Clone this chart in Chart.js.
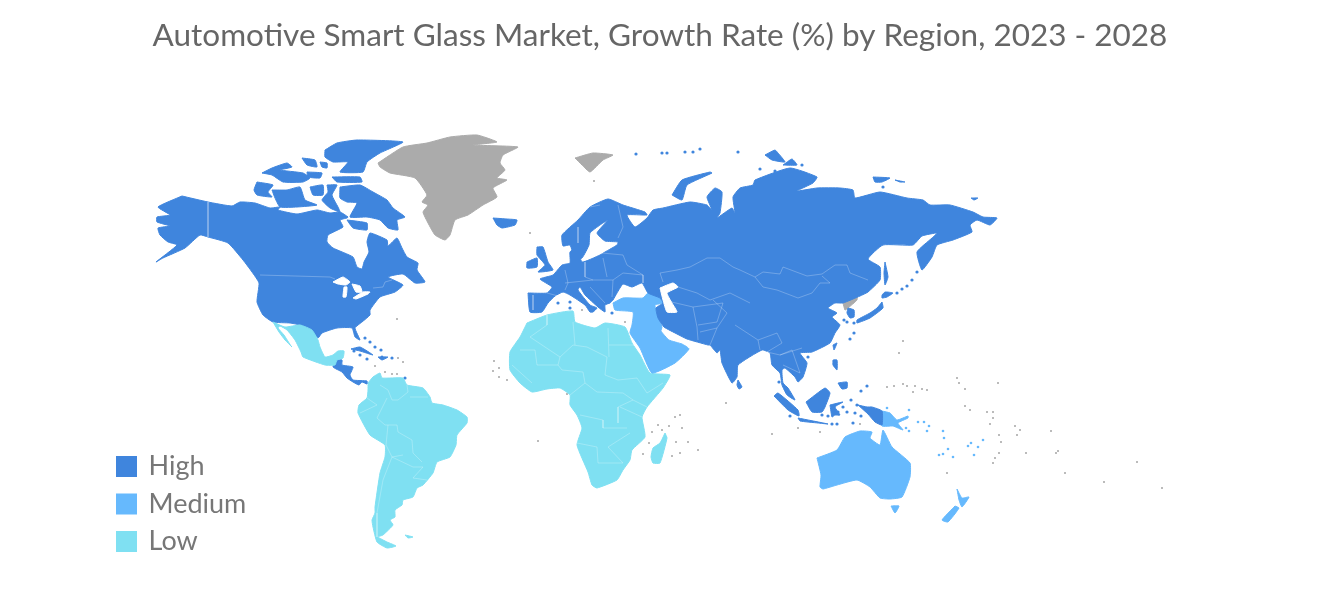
<!DOCTYPE html>
<html>
<head>
<meta charset="utf-8">
<style>html,body{margin:0;padding:0;background:#fff}canvas{display:block}</style>
<script src="https://cdn.jsdelivr.net/npm/chart.js@4"></script>
</head>
<body>
<canvas id="map" width="1320" height="592"></canvas>
<script>
const titleText = 'Automotive Smart Glass Market, Growth Rate (%) by Region, 2023 - 2028';
const tiers = ['High', 'Medium', 'Low'];

// region outlines as [x, y] in map units
const eurasia = [[528,293],[547,293],[552,287],[540,279],[553,275],[562,265],[570,263],[570,252],[577,247],[582,262],[600,255],[605,252],[617,245],[618,242],[605,241],[597,233],[608,220],[600,225],[590,233],[589,245],[582,258],[575,259],[570,245],[563,246],[562,235],[578,220],[590,207],[608,199],[623,205],[645,212],[647,215],[627,215],[635,227],[647,218],[653,210],[663,208],[690,202],[707,205],[712,210],[707,197],[715,188],[722,192],[720,213],[717,218],[732,208],[735,213],[733,197],[740,188],[753,185],[755,180],[790,168],[817,177],[813,183],[797,191],[817,188],[840,188],[853,190],[855,198],[880,192],[907,198],[923,200],[930,205],[950,205],[973,212],[983,217],[997,218],[990,225],[977,220],[970,225],[972,232],[953,240],[937,245],[932,257],[922,270],[917,252],[932,238],[937,233],[922,236],[913,245],[883,245],[868,259],[880,267],[880,280],[868,292],[860,296],[843,303],[835,303],[828,308],[837,313],[832,317],[840,325],[835,333],[830,343],[812,352],[800,353],[807,363],[803,377],[798,382],[795,377],[785,368],[782,370],[783,383],[788,388],[795,400],[787,395],[782,385],[780,373],[772,365],[770,353],[762,350],[738,365],[737,377],[732,383],[722,363],[720,350],[717,353],[710,345],[708,345],[687,339],[677,334],[664,327],[658,318],[656,308],[663,303],[660,298],[648,293],[642,283],[632,287],[623,284],[617,293],[613,300],[610,303],[605,305],[605,312],[598,307],[585,295],[580,287],[578,290],[590,305],[597,308],[593,312],[590,312],[585,305],[570,295],[563,292],[555,296],[548,303],[542,312],[530,312]];
const northAmerica = [[182,196],[208,202],[232,206],[240,202],[255,203],[270,208],[280,207],[278,210],[297,214],[317,210],[330,213],[340,212],[348,217],[347,218],[340,220],[343,227],[328,235],[327,242],[333,248],[353,257],[357,267],[362,269],[364,262],[369,252],[367,242],[370,233],[387,240],[388,246],[397,238],[402,248],[407,257],[418,263],[417,270],[425,282],[415,283],[403,274],[388,277],[403,285],[395,292],[380,297],[370,310],[370,315],[362,322],[355,328],[360,340],[355,337],[352,328],[337,328],[322,333],[318,338],[310,330],[300,325],[290,323],[273,322],[263,315],[257,302],[259,283],[252,272],[243,260],[228,243],[208,237],[200,235],[185,248],[163,258],[156,262],[177,245],[168,242],[160,235],[158,228],[170,226],[157,222],[157,217],[170,215],[158,207]];
const ellesmere = [[325,150],[337,143],[357,140],[403,142],[380,153],[367,162],[363,172],[340,172],[348,162],[333,162],[325,157]];
const devon = [[332,177],[360,177],[362,182],[337,182]];
const melville = [[262,173],[272,168],[287,163],[292,167],[280,170],[303,173],[310,178],[303,182],[283,182],[272,175]];
const axelHeiberg = [[302,158],[315,160],[317,167],[307,165]];
const cornwall = [[320,162],[327,163],[327,168],[322,167]];
const bathurst = [[307,172],[322,173],[320,178],[308,177]];
const banks = [[257,182],[273,185],[268,192],[272,197],[257,195],[254,190]];
const victoria = [[272,190],[287,190],[300,187],[305,200],[317,205],[297,207],[280,207],[275,198]];
const princeWales = [[310,187],[323,185],[323,195],[313,195]];
const somerset = [[327,185],[337,185],[332,195],[338,207],[340,212],[330,208],[322,200],[328,192]];
const baffin = [[340,187],[360,185],[373,192],[387,200],[393,208],[405,217],[397,220],[398,230],[388,228],[380,220],[367,217],[350,217],[357,203],[347,202],[340,198]];
const southampton = [[347,220],[367,223],[367,230],[353,228]];
const iceland = [[493,218],[507,219],[517,220],[515,225],[502,228],[497,225]];
const centralAmerica = [[336,360],[342,360],[342,365],[353,367],[350,375],[353,380],[367,381],[367,384],[362,382],[359,385],[353,382],[347,378],[342,372],[333,367]];
const cuba = [[351,349],[360,347],[373,355],[360,351]];
const hispaniola = [[378,357],[388,357],[382,360]];
const britain = [[537,247],[543,247],[548,262],[553,270],[538,272],[545,265],[537,255]];
const ireland = [[527,262],[537,258],[537,267],[527,268]];
const novayaZemlya = [[672,195],[682,180],[710,172],[712,173],[687,185],[682,200]];
const severnaya1 = [[765,155],[775,150],[778,153],[785,162],[772,160]];
const severnaya2 = [[783,165],[792,159],[797,165]];
const newSiberia1 = [[873,177],[890,178],[882,182],[875,182]];
const newSiberia2 = [[895,180],[905,182],[900,182]];
const wrangel = [[971,198],[978,198],[974,200]];
const sriLanka = [[738,380],[742,387],[739,389],[737,385]];
const sumatra = [[774,396],[778,393],[798,410],[799,416],[788,410]];
const java = [[798,418],[828,424],[818,423],[800,421]];
const borneo = [[806,402],[825,388],[830,393],[825,407],[822,412],[812,412]];
const sulawesi = [[830,405],[843,402],[835,407],[840,415],[835,415],[832,417]];
const guineaWest = [[858,405],[867,407],[872,407],[882,411],[882,425],[875,422],[868,414]];
const luzon = [[833,360],[837,360],[837,370],[833,365]];
const mindanao = [[838,383],[847,382],[847,388],[842,389]];
const taiwan = [[833,345],[837,343],[834,350]];
const honshu = [[882,302],[883,308],[870,318],[857,323],[857,320],[870,313],[877,308]];
const hokkaido = [[882,295],[885,292],[893,293],[887,297],[882,298]];
const sakhalin = [[885,262],[888,277],[885,285],[884,273]];
const southKorea = [[848,308],[854,310],[854,317],[850,318],[847,313]];

const middleEast = [[613,303],[623,298],[643,298],[648,293],[660,298],[663,303],[655,305],[658,317],[662,327],[661,331],[669,340],[682,344],[689,349],[675,363],[652,373],[640,348],[630,333],[632,325],[633,312],[615,310]];
const australia = [[817,458],[837,450],[845,437],[860,431],[872,432],[870,438],[880,445],[883,430],[892,447],[910,463],[910,477],[902,497],[890,499],[880,498],[870,487],[857,480],[837,485],[823,489],[820,487],[821,475]];
const tasmania = [[891,506],[899,506],[895,513]];
const newZealandN = [[957,489],[962,498],[969,497],[962,507],[959,500]];
const newZealandS = [[955,506],[959,508],[948,522],[942,520]];
const guineaEast = [[882,411],[890,413],[897,420],[908,416],[908,418],[898,423],[903,430],[893,426],[882,426]];

const mexico = [[273,322],[285,327],[300,325],[312,330],[318,340],[320,347],[325,357],[333,355],[338,351],[344,351],[343,358],[337,360],[335,365],[325,365],[303,357],[301,352],[295,340],[287,330],[280,326],[278,328],[284,335],[291,346],[292,347],[285,340],[279,332]];
const southAmerica = [[368,383],[373,377],[380,373],[382,378],[403,378],[407,385],[423,388],[430,397],[432,403],[443,405],[457,410],[467,417],[467,423],[457,435],[456,445],[450,457],[437,462],[433,473],[423,485],[417,488],[413,497],[403,500],[402,505],[395,510],[395,517],[390,520],[393,525],[383,535],[378,537],[387,542],[396,546],[387,548],[377,542],[373,527],[372,520],[375,513],[375,507],[380,473],[385,457],[385,445],[370,435],[358,413],[359,405],[367,398],[368,390]];
const falklands = [[405,535],[413,537],[408,538]];
const africa = [[527,323],[547,315],[573,311],[575,322],[595,328],[605,323],[625,327],[632,343],[640,355],[650,373],[670,375],[663,388],[647,407],[642,417],[645,437],[632,450],[630,460],[623,470],[617,480],[597,488],[592,485],[588,472],[577,445],[582,428],[577,415],[570,405],[570,395],[560,388],[547,389],[532,392],[520,383],[510,370],[510,352],[520,337]];
const madagascar = [[665,433],[667,438],[660,463],[653,463],[651,457],[653,448],[660,443]];

const greenland = [[378,163],[403,147],[427,143],[450,137],[477,135],[497,142],[473,145],[518,147],[503,155],[500,163],[505,170],[497,178],[507,180],[493,188],[497,197],[483,205],[468,215],[455,220],[450,235],[445,240],[435,235],[428,223],[423,212],[428,205],[422,202],[427,195],[415,178],[390,173],[380,167]];
const svalbard = [[575,158],[593,153],[613,155],[603,160],[590,172],[582,165]];
const northKorea = [[843,303],[857,295],[857,300],[848,308],[845,310]];

// inland water
const superior = [[333,282],[343,277],[350,282],[346,285],[338,284]];
const michigan = [[344,287],[347,287],[346,297],[343,297]];
const huron = [[352,284],[360,286],[362,292],[356,292]];
const erie = [[353,298],[363,292],[370,292],[368,294],[356,299]];
const caspian = [[660,288],[673,283],[678,287],[667,293],[672,303],[677,312],[667,312],[663,300]];

// tiny islands
const highIslands = [[381,350],[382,357],[367,359],[354,351],[360,355],[365,338],[370,342],[375,347],[392,358],[405,378],[558,303],[570,302],[570,308],[612,313],[779,382],[790,416],[861,391],[867,386],[851,400],[857,405],[843,407],[822,415],[828,416],[838,412],[847,412],[855,413],[861,416],[832,424],[837,424],[853,423],[808,357],[844,320],[847,322],[854,323],[854,333],[850,339],[897,293],[902,289],[907,286],[912,280],[917,272],[636,154],[662,153],[667,153],[685,152],[693,152],[700,149],[738,152],[760,169],[775,171],[802,165],[883,187]];
const mediumIslands = [[918,422],[924,422],[929,426],[927,431],[906,428],[909,431],[943,431],[944,438],[948,449],[943,454],[939,455],[953,457],[968,446],[971,443],[978,447],[983,440],[974,455],[909,410],[887,408]];
const greyIslands = [[887,387],[894,386],[903,384],[907,386],[915,386],[913,392],[922,389],[927,390],[957,378],[959,383],[965,389],[998,383],[965,406],[970,410],[987,412],[993,412],[993,418],[990,424],[1015,426],[1020,430],[1017,435],[999,435],[1001,442],[999,453],[995,458],[993,463],[947,473],[1026,453],[1056,453],[1058,451],[1065,473],[1051,431],[1104,482],[1137,462],[1162,488],[899,353],[903,341],[494,361],[493,371],[499,368],[499,377],[507,380],[538,441],[567,394],[652,432],[662,430],[643,454],[649,443],[680,415],[675,417],[669,426],[682,428],[688,442],[698,450],[680,453],[672,456],[676,442],[658,425],[397,319],[398,358],[403,362],[385,372],[392,374],[397,374],[375,366],[726,403],[798,428],[772,434],[530,233],[594,181],[582,310],[625,322],[860,424],[820,432]];

// country borders
const borders = [
  [[260,275],[330,277],[335,279]], [[208,202],[208,237]], [[373,288],[383,287],[385,282],[392,280]],
  [[547,315],[547,325],[530,337],[560,357],[573,345],[587,347],[607,357],[605,375]],
  [[573,322],[575,345]], [[608,328],[609,357]], [[609,345],[635,345]],
  [[605,375],[618,380],[637,378]], [[520,350],[535,350],[537,365],[558,365],[560,357]],
  [[512,365],[532,383]], [[558,365],[562,370],[583,372],[585,383],[570,395]],
  [[585,383],[597,392],[623,393],[633,400],[618,407],[618,423]],
  [[580,415],[603,420],[603,428],[627,428]], [[637,378],[647,393],[663,383]],
  [[633,400],[647,407]], [[620,407],[642,417]], [[577,443],[597,447],[598,463],[623,463],[608,447],[630,433]],
  [[380,385],[388,390],[392,400],[398,400],[408,392],[407,385]], [[410,397],[428,397]],
  [[377,418],[387,398]], [[377,418],[385,425],[397,425],[398,432],[412,440],[413,453],[422,462]],
  [[360,413],[377,405],[367,398]], [[388,425],[386,445],[392,457],[403,455]],
  [[392,457],[383,480],[377,513],[377,537]], [[392,457],[413,467],[423,467],[413,478],[427,480]],
  [[533,295],[533,310]], [[547,293],[562,297]], [[565,270],[568,283],[565,290]],
  [[585,262],[585,277],[593,280]], [[603,258],[607,277]], [[565,283],[593,280],[613,280],[623,273],[643,275],[643,283]],
  [[602,253],[623,255],[627,265],[643,275]], [[578,227],[578,243]], [[590,207],[600,205]],
  [[618,205],[623,227],[618,238]], [[590,287],[605,303]], [[613,280],[612,297]],
  [[660,273],[677,270],[690,267],[707,258],[720,258],[733,267],[740,270],[755,277],[763,272],[780,274],[783,267],[807,276],[822,274],[835,265],[847,265],[850,273],[868,280]],
  [[755,277],[763,287],[777,290],[798,298],[812,293],[820,283],[830,283],[822,276]],
  [[660,273],[663,282]], [[678,287],[697,293],[710,300],[730,293],[750,303]],
  [[663,300],[693,307],[697,327],[698,340]], [[693,307],[723,303],[717,322],[698,325]],
  [[700,332],[717,328],[727,313],[713,300]], [[735,325],[758,340],[777,333],[782,343],[767,352],[780,355],[802,348]],
  [[758,340],[760,350]], [[780,355],[792,350],[800,373],[783,365]], [[717,328],[710,345]]
];

const blue = '#3F85DD', sky = '#66B9FD', aqua = '#7FE0F2', grey = '#ABABAB';

const toXY = p => ({x: p[0], y: p[1]});

function land(outline, colour, label) {
  return {
    label: label || '',
    data: outline.concat([outline[0]]).map(toXY),
    showLine: true,
    fill: 'shape',
    backgroundColor: colour,
    borderColor: colour,
    borderWidth: 1,
    pointRadius: 0,
    tension: 0.15
  };
}

function dots(list, colour, r) {
  return {label: '', data: list.map(toXY), showLine: false, backgroundColor: colour, borderColor: colour, pointRadius: r, pointBorderWidth: 0};
}

const borderPoints = [];
borders.forEach(b => { b.forEach(p => borderPoints.push(toXY(p))); borderPoints.push({x: null, y: null}); });

const highLand = [northAmerica, ellesmere, devon, melville, axelHeiberg, cornwall, bathurst, banks, victoria, princeWales, somerset, baffin, southampton, iceland, centralAmerica, cuba, hispaniola, britain, ireland, novayaZemlya, severnaya1, severnaya2, newSiberia1, newSiberia2, wrangel, sriLanka, sumatra, java, borneo, sulawesi, guineaWest, luzon, mindanao, taiwan, honshu, hokkaido, sakhalin, southKorea];
const mediumLand = [australia, tasmania, newZealandN, newZealandS, guineaEast];
const lowLand = [southAmerica, falklands, africa, madagascar];
const greyLand = [greenland, svalbard, northKorea];

const datasets = [
  land(superior, '#fff'), land(michigan, '#fff'), land(huron, '#fff'), land(erie, '#fff'), land(caspian, '#fff'),
  {label: '', data: borderPoints, showLine: true, spanGaps: false, borderColor: 'rgba(255,255,255,0.25)', borderWidth: 1, pointRadius: 0, fill: false},
  land(eurasia, blue, tiers[0]),
  land(middleEast, sky, tiers[1]),
  land(mexico, aqua, tiers[2])
];
highLand.forEach(o => datasets.push(land(o, blue)));
mediumLand.forEach(o => datasets.push(land(o, sky)));
lowLand.forEach(o => datasets.push(land(o, aqua)));
greyLand.forEach(o => datasets.push(land(o, grey)));
datasets.push(dots(highIslands, blue, 1.6), dots(mediumIslands, sky, 1.3), dots(greyIslands, grey, 1.1));

new Chart(document.getElementById('map'), {
  type: 'scatter',
  data: {datasets: datasets},
  options: {
    responsive: false,
    animation: false,
    layout: {padding: {left: 107.5, right: 107.5, top: 0, bottom: 9.5}},
    scales: {
      x: {type: 'linear', display: false, min: 107.5, max: 1212.5},
      y: {type: 'linear', display: false, reverse: true, min: 17, max: 582.5}
    },
    plugins: {
      tooltip: {enabled: false},
      title: {
        display: true,
        text: titleText,
        color: '#666666',
        font: {family: 'Lato', size: 31.5, weight: 'normal', lineHeight: 1.2},
        padding: {top: 17, bottom: -37.8}
      },
      legend: {
        position: 'chartArea',
        align: 'end',
        labels: {
          boxWidth: 17,
          boxHeight: 17,
          padding: 10.5,
          color: '#777777',
          font: {family: 'Lato', size: 27},
          filter: item => tiers.includes(item.text),
          // thick edge keeps the swatch size while pulling the label closer
          generateLabels: chart => Chart.defaults.plugins.legend.labels.generateLabels(chart).map(i => ({...i, lineWidth: 4}))
        }
      }
    }
  }
});
</script>
</body>
</html>
